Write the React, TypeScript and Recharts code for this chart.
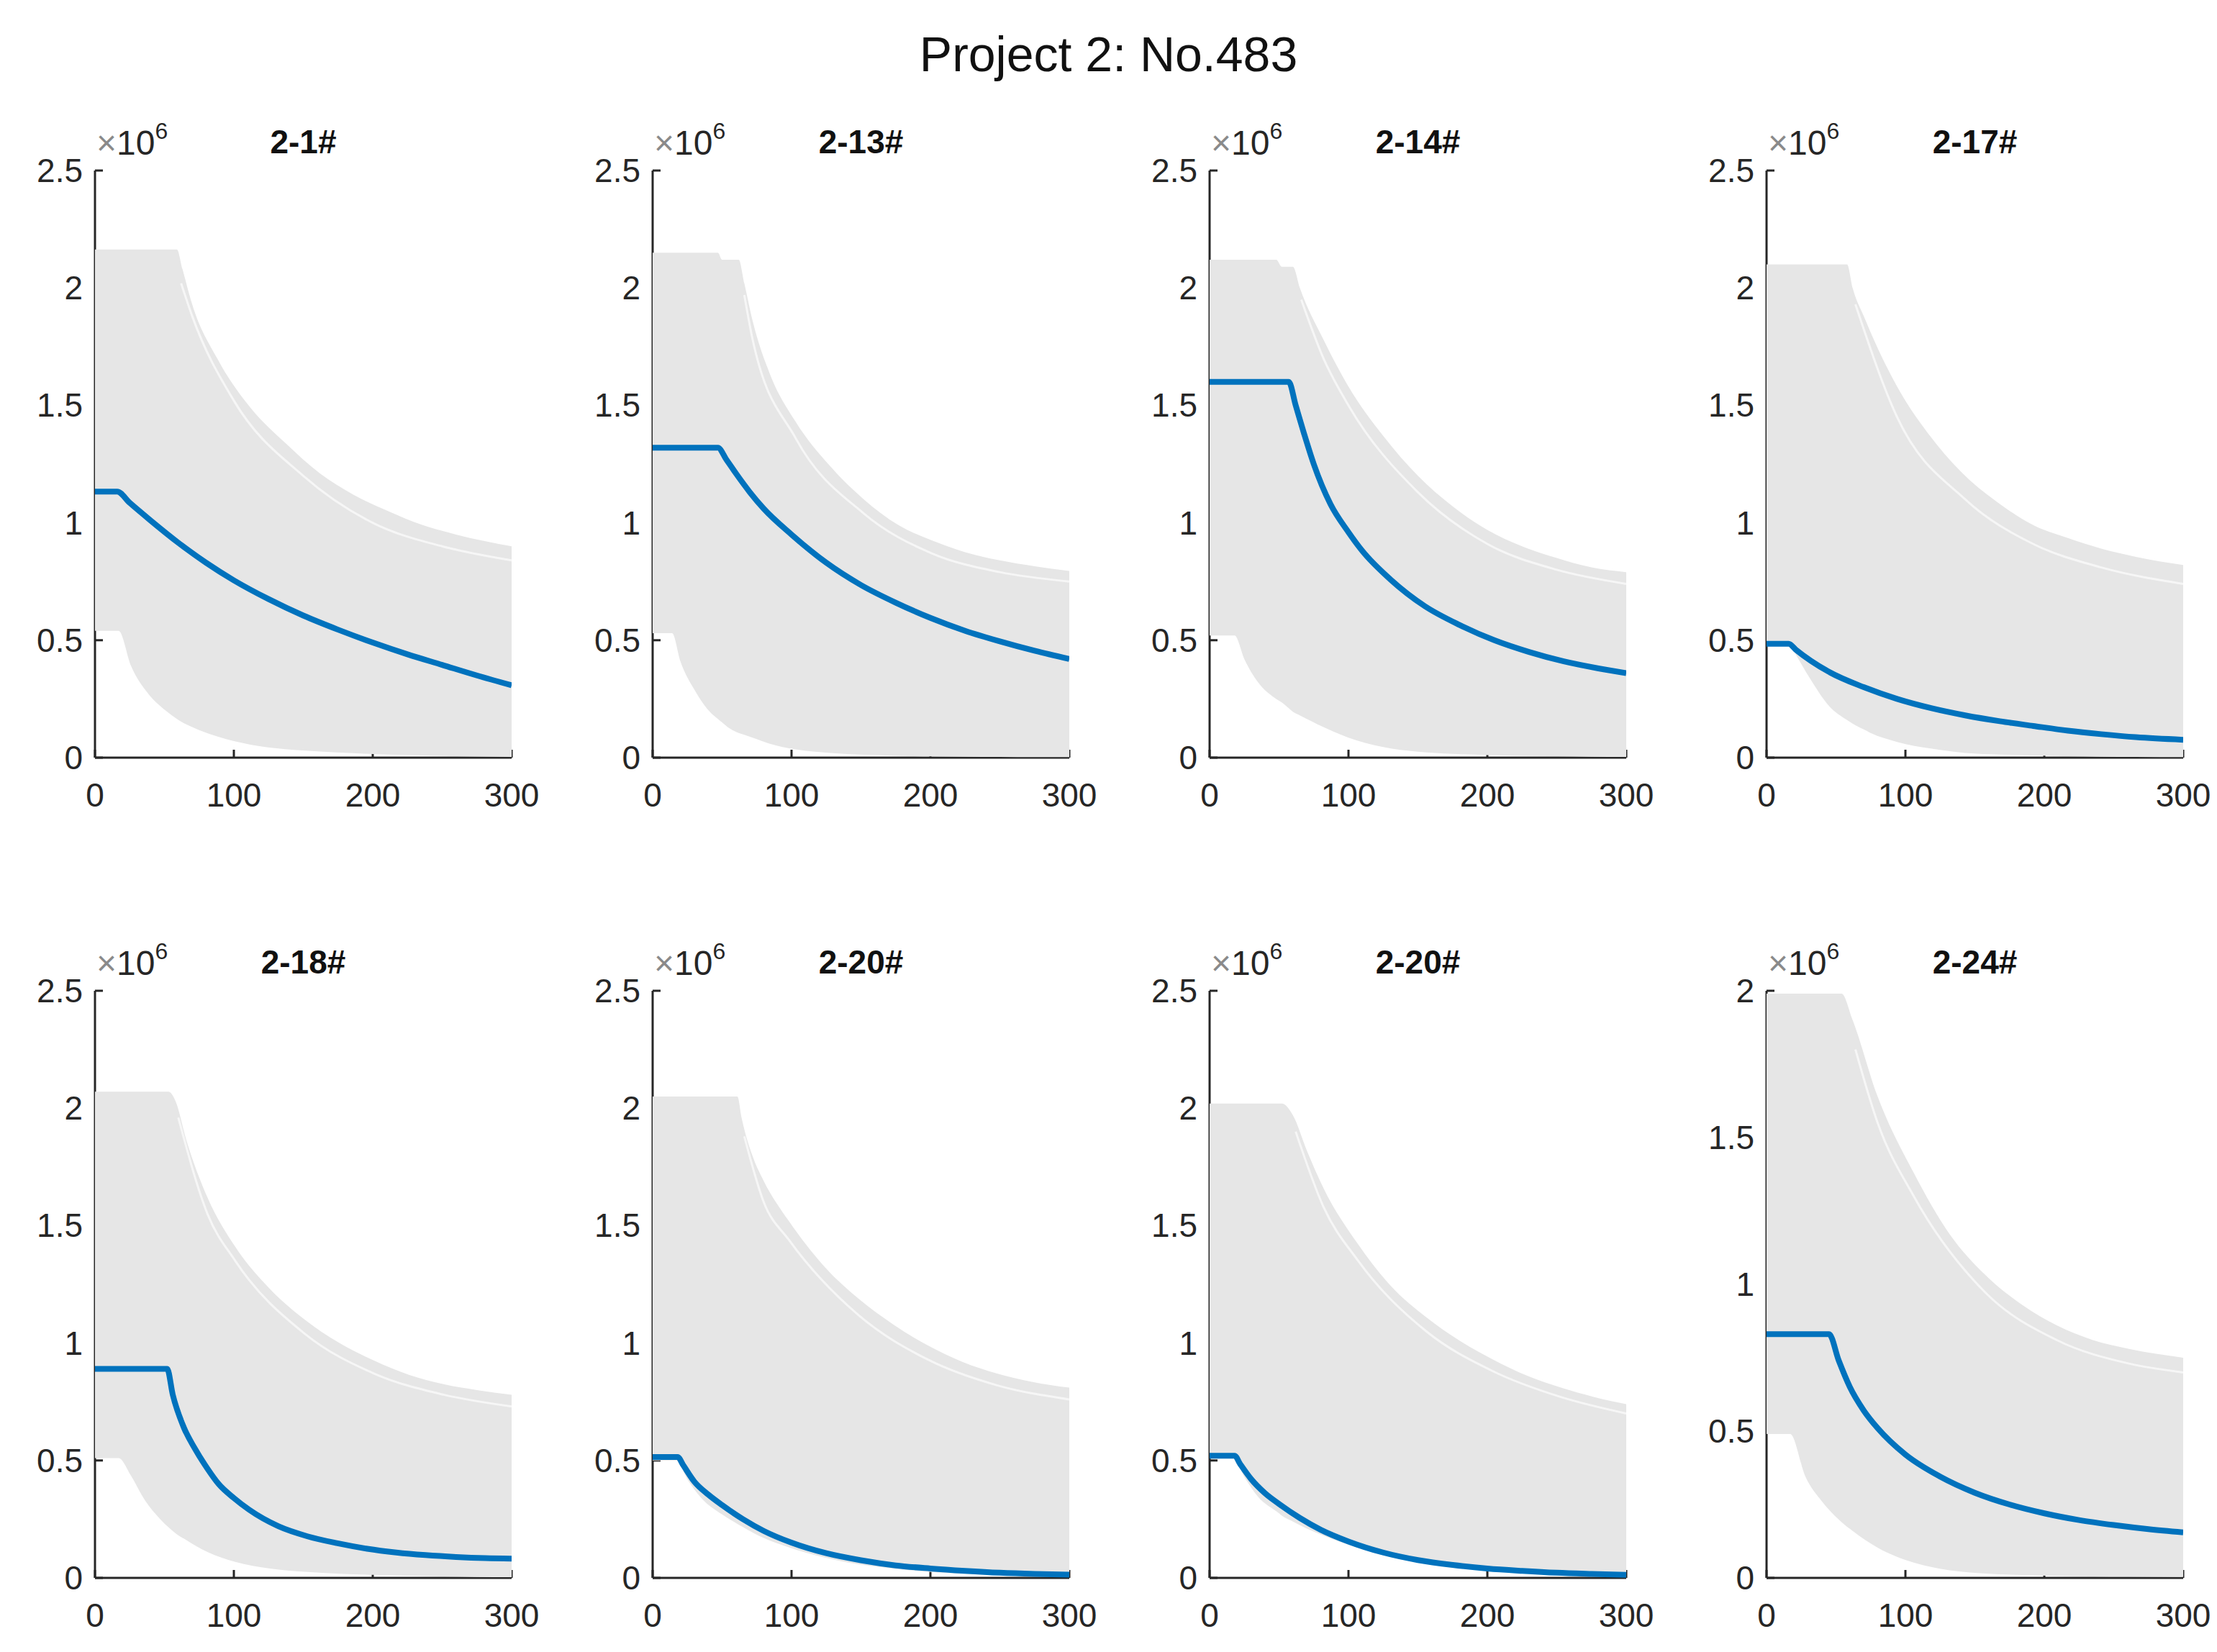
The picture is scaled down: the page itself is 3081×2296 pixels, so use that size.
import React from 'react'
import { ComposedChart, Area, Line, XAxis, YAxis } from 'recharts'

// values, y in units of 10^6

// 2-1#
const p1BandX = [0, 17, 26, 38, 51, 59, 63, 70, 88, 112, 137, 162, 186, 211, 236, 260, 300]
const p1Low = [0.54, 0.54, 0.39, 0.275, 0.2, 0.165, 0.15, 0.13, 0.09, 0.055, 0.036, 0.026, 0.019, 0.013, 0.009, 0.006, 0.003]
const p1High = [2.164, 2.164, 2.164, 2.164, 2.164, 2.164, 2.08, 1.93, 1.7, 1.49, 1.34, 1.21, 1.12, 1.05, 0.99, 0.95, 0.9]
const p1GapX = [62, 70, 100, 150, 200, 250, 300]
const p1GapY = [2.02, 1.88, 1.52, 1.2, 1.0, 0.9, 0.84]
const p1BlueX = [0, 16, 25, 40, 60, 80, 100, 125, 150, 175, 200, 225, 250, 275, 300]
const p1BlueY = [1.133, 1.133, 1.085, 1.01, 0.915, 0.83, 0.755, 0.675, 0.605, 0.545, 0.49, 0.44, 0.395, 0.35, 0.308]

// 2-13#
const p2BandX = [0, 14, 20, 30, 42, 47, 50, 54, 62, 66, 72, 84, 103, 128, 152, 177, 201, 225, 250, 275, 300]
const p2Low = [0.53, 0.53, 0.41, 0.29, 0.19, 0.165, 0.15, 0.13, 0.105, 0.097, 0.085, 0.06, 0.035, 0.02, 0.012, 0.008, 0.005, 0.004, 0.003, 0.002, 0.002]
const p2High = [2.15, 2.15, 2.15, 2.15, 2.15, 2.15, 2.12, 2.12, 2.12, 2.02, 1.86, 1.64, 1.43, 1.24, 1.1, 0.99, 0.925, 0.875, 0.84, 0.815, 0.795]
const p2GapX = [66, 72, 103, 152, 201, 250, 300]
const p2GapY = [1.97, 1.78, 1.36, 1.04, 0.87, 0.79, 0.75]
const p2BlueX = [0, 47, 53, 60, 70, 80, 100, 125, 150, 175, 200, 225, 250, 275, 300]
const p2BlueY = [1.32, 1.32, 1.27, 1.21, 1.13, 1.06, 0.95, 0.83, 0.735, 0.66, 0.595, 0.54, 0.495, 0.455, 0.42]

// 2-14#
const p3BandX = [0, 18, 25, 35, 48, 52, 58, 60, 65, 82, 100, 125, 150, 175, 200, 225, 250, 275, 300]
const p3Low = [0.52, 0.52, 0.42, 0.32, 0.25, 0.235, 0.205, 0.195, 0.18, 0.13, 0.085, 0.045, 0.025, 0.016, 0.011, 0.008, 0.006, 0.004, 0.003]
const p3High = [2.12, 2.12, 2.12, 2.12, 2.12, 2.09, 2.09, 2.09, 2.0, 1.78, 1.58, 1.37, 1.2, 1.07, 0.97, 0.9, 0.85, 0.81, 0.79]
const p3GapX = [66, 82, 100, 150, 200, 250, 300]
const p3GapY = [1.95, 1.7, 1.5, 1.13, 0.91, 0.8, 0.74]
const p3BlueX = [0, 57, 62, 68, 75, 87, 100, 110, 130, 155, 180, 205, 230, 255, 280, 300]
const p3BlueY = [1.6, 1.6, 1.5, 1.38, 1.25, 1.08, 0.96, 0.88, 0.76, 0.645, 0.565, 0.5, 0.45, 0.41, 0.38, 0.36]

// 2-17#
const p4BandX = [0, 16, 21, 31, 45, 58, 62, 70, 75, 94, 119, 143, 168, 192, 217, 241, 266, 300]
const p4Low = [0.49, 0.49, 0.44, 0.34, 0.22, 0.16, 0.145, 0.12, 0.105, 0.067, 0.038, 0.02, 0.013, 0.009, 0.006, 0.004, 0.003, 0.002]
const p4High = [2.1, 2.1, 2.1, 2.1, 2.1, 2.1, 2.0, 1.88, 1.81, 1.58, 1.36, 1.2, 1.08, 0.99, 0.935, 0.89, 0.855, 0.82]
const p4GapX = [64, 94, 143, 192, 241, 300]
const p4GapY = [1.93, 1.45, 1.1, 0.91, 0.81, 0.74]
const p4BlueX = [0, 16, 21, 45, 70, 94, 119, 143, 168, 192, 217, 241, 266, 300]
const p4BlueY = [0.485, 0.485, 0.46, 0.365, 0.3, 0.25, 0.21, 0.18, 0.155, 0.135, 0.115, 0.1, 0.087, 0.076]

// 2-18#
const p5BandX = [0, 17, 26, 36, 47, 53, 58, 66, 81, 101, 126, 151, 176, 201, 226, 251, 275, 300]
const p5Low = [0.51, 0.51, 0.434, 0.33, 0.25, 0.215, 0.19, 0.16, 0.11, 0.068, 0.04, 0.026, 0.018, 0.013, 0.009, 0.006, 0.004, 0.003]
const p5High = [2.07, 2.07, 2.07, 2.07, 2.07, 2.07, 2.03, 1.86, 1.62, 1.41, 1.23, 1.1, 1.0, 0.925, 0.865, 0.825, 0.8, 0.78]
const p5GapX = [60, 81, 101, 151, 201, 251, 300]
const p5GapY = [1.96, 1.55, 1.35, 1.04, 0.87, 0.78, 0.73]
const p5BlueX = [0, 52, 56, 64, 72, 81, 89, 100, 111, 132, 153, 174, 196, 217, 238, 260, 281, 300]
const p5BlueY = [0.89, 0.89, 0.78, 0.64, 0.55, 0.465, 0.4, 0.34, 0.29, 0.22, 0.177, 0.148, 0.124, 0.108, 0.097, 0.089, 0.084, 0.082]

// 2-20# (first)
const p6BandX = [0, 17, 25, 35, 50, 61, 64, 73, 80, 98, 123, 148, 173, 198, 223, 248, 273, 300]
const p6Low = [0.5, 0.5, 0.42, 0.34, 0.27, 0.23, 0.22, 0.19, 0.17, 0.13, 0.088, 0.058, 0.04, 0.026, 0.018, 0.012, 0.008, 0.006]
const p6High = [2.05, 2.05, 2.05, 2.05, 2.05, 2.05, 1.96, 1.78, 1.69, 1.52, 1.33, 1.19, 1.08, 0.99, 0.92, 0.87, 0.835, 0.81]
const p6GapX = [66, 80, 98, 148, 198, 248, 300]
const p6GapY = [1.88, 1.6, 1.44, 1.12, 0.93, 0.82, 0.76]
const p6BlueX = [0, 18, 22, 30, 40, 50, 65, 80, 100, 125, 150, 175, 200, 225, 250, 275, 300]
const p6BlueY = [0.515, 0.515, 0.48, 0.41, 0.355, 0.31, 0.25, 0.2, 0.15, 0.105, 0.075, 0.053, 0.04, 0.03, 0.022, 0.017, 0.014]

// 2-20# (second)
const p7BandX = [0, 17, 25, 35, 50, 52, 60, 70, 82, 107, 131, 156, 180, 204, 229, 253, 277, 300]
const p7Low = [0.51, 0.51, 0.43, 0.345, 0.275, 0.265, 0.24, 0.21, 0.18, 0.128, 0.088, 0.06, 0.042, 0.03, 0.02, 0.014, 0.009, 0.006]
const p7High = [2.02, 2.02, 2.02, 2.02, 2.02, 2.02, 1.97, 1.82, 1.66, 1.42, 1.24, 1.11, 1.01, 0.93, 0.86, 0.81, 0.77, 0.74]
const p7GapX = [62, 82, 107, 156, 204, 253, 300]
const p7GapY = [1.9, 1.58, 1.35, 1.05, 0.88, 0.77, 0.7]
const p7BlueX = [0, 18, 22, 30, 40, 50, 65, 80, 100, 125, 150, 175, 200, 225, 250, 275, 300]
const p7BlueY = [0.52, 0.52, 0.485, 0.42, 0.36, 0.315, 0.255, 0.205, 0.155, 0.108, 0.076, 0.055, 0.04, 0.03, 0.022, 0.017, 0.013]

// 2-24#
const p8BandX = [0, 17, 28, 40, 54, 62, 80, 106, 132, 158, 184, 209, 235, 261, 300]
const p8Low = [0.49, 0.49, 0.345, 0.26, 0.19, 0.16, 0.103, 0.052, 0.026, 0.015, 0.01, 0.007, 0.005, 0.004, 0.003]
const p8High = [1.99, 1.99, 1.99, 1.99, 1.99, 1.9, 1.64, 1.38, 1.17, 1.03, 0.93, 0.86, 0.81, 0.78, 0.75]
const p8GapX = [64, 80, 106, 158, 209, 261, 300]
const p8GapY = [1.8, 1.55, 1.3, 0.97, 0.81, 0.73, 0.7]
const p8BlueX = [0, 45, 52, 60, 70, 80, 100, 125, 150, 175, 200, 225, 250, 275, 300]
const p8BlueY = [0.83, 0.83, 0.74, 0.65, 0.57, 0.51, 0.42, 0.345, 0.29, 0.25, 0.22, 0.197, 0.18, 0.166, 0.155]

const titles = ['2-1#', '2-13#', '2-14#', '2-17#', '2-18#', '2-20#', '2-20#', '2-24#']
const xTicks = [0, 100, 200, 300]
const yTicks = [0, 0.5, 1, 1.5, 2, 2.5]
const yTicksLast = [0, 0.5, 1, 1.5, 2]

const FONT = "'Liberation Sans', Arial, Helvetica, sans-serif"
const INK = '#262626'
const GRAY = '#e6e6e6'
const BLUE = '#0072bd'

const PLOT_W = 579
const PLOT_H = 816
const ML = 130
const MT = 40
const MR = 70
const MB = 90
const COL_X = [132, 907, 1681, 2455]
const ROW_Y = [237, 1377]

const band = (xs: number[], lo: number[], hi: number[]) =>
  xs.map((x, i) => ({ x, band: [lo[i], hi[i]] }))
const line = (xs: number[], ys: number[]) => xs.map((x, i) => ({ x, y: ys[i] }))

const panels = [
  { band: band(p1BandX, p1Low, p1High), gap: line(p1GapX, p1GapY), blue: line(p1BlueX, p1BlueY), yMax: 2.5 },
  { band: band(p2BandX, p2Low, p2High), gap: line(p2GapX, p2GapY), blue: line(p2BlueX, p2BlueY), yMax: 2.5 },
  { band: band(p3BandX, p3Low, p3High), gap: line(p3GapX, p3GapY), blue: line(p3BlueX, p3BlueY), yMax: 2.5 },
  { band: band(p4BandX, p4Low, p4High), gap: line(p4GapX, p4GapY), blue: line(p4BlueX, p4BlueY), yMax: 2.5 },
  { band: band(p5BandX, p5Low, p5High), gap: line(p5GapX, p5GapY), blue: line(p5BlueX, p5BlueY), yMax: 2.5 },
  { band: band(p6BandX, p6Low, p6High), gap: line(p6GapX, p6GapY), blue: line(p6BlueX, p6BlueY), yMax: 2.5 },
  { band: band(p7BandX, p7Low, p7High), gap: line(p7GapX, p7GapY), blue: line(p7BlueX, p7BlueY), yMax: 2.5 },
  { band: band(p8BandX, p8Low, p8High), gap: line(p8GapX, p8GapY), blue: line(p8BlueX, p8BlueY), yMax: 2 },
]

function XTick(props: any) {
  const { x, y, payload } = props
  return (
    <g>
      <line x1={x} x2={x} y1={y} y2={y - 11} stroke={INK} strokeWidth={3} />
      <text x={x} y={y + 52} textAnchor="middle" dominantBaseline="central" fill={INK} fontSize={46} fontFamily={FONT}>
        {payload.value}
      </text>
    </g>
  )
}

function YTick(props: any) {
  const { x, y, payload } = props
  return (
    <g>
      <line x1={x} x2={x + 11} y1={y} y2={y} stroke={INK} strokeWidth={3} />
      <text x={x - 17} y={y} textAnchor="end" dominantBaseline="central" fill={INK} fontSize={46} fontFamily={FONT}>
        {payload.value}
      </text>
    </g>
  )
}

const chartW = ML + PLOT_W + MR
const chartH = MT + PLOT_H + MB
const chartMargin = { top: MT, right: MR, left: 0, bottom: 0 }

function Panel({ index }: { index: number }) {
  const p = panels[index]
  const axisX = COL_X[index % 4]
  const plotTop = ROW_Y[Math.floor(index / 4)]
  const ticks = p.yMax === 2 ? yTicksLast : yTicks
  const box = { position: 'absolute' as const, left: axisX - ML, top: plotTop - MT }
  return (
    <>
      {/* axes underneath */}
      <div style={box}>
        <ComposedChart width={chartW} height={chartH} margin={chartMargin}>
          <XAxis
            type="number"
            dataKey="x"
            domain={[0, 300]}
            ticks={xTicks}
            height={MB}
            tickSize={0}
            tickMargin={0}
            tickLine={false}
            axisLine={{ stroke: INK, strokeWidth: 3 }}
            tick={<XTick />}
            allowDataOverflow
          />
          <YAxis
            type="number"
            domain={[0, p.yMax]}
            ticks={ticks}
            width={ML}
            tickSize={0}
            tickMargin={0}
            tickLine={false}
            axisLine={{ stroke: INK, strokeWidth: 3 }}
            tick={<YTick />}
            allowDataOverflow
          />
          <Line data={p.blue} dataKey="y" stroke="none" dot={false} activeDot={false} isAnimationActive={false} />
        </ComposedChart>
      </div>
      {/* simulation runs drawn over the axes, as in the MATLAB figure */}
      <div style={box}>
        <ComposedChart width={chartW} height={chartH} margin={chartMargin}>
          <XAxis
            type="number"
            dataKey="x"
            domain={[0, 300]}
            ticks={xTicks}
            height={MB}
            tick={false}
            tickLine={false}
            axisLine={false}
            allowDataOverflow
          />
          <YAxis
            type="number"
            domain={[0, p.yMax]}
            ticks={ticks}
            width={ML}
            tick={false}
            tickLine={false}
            axisLine={false}
            allowDataOverflow
          />
          <Area
            data={p.band}
            dataKey="band"
            type="monotone"
            stroke="none"
            fill={GRAY}
            fillOpacity={1}
            isAnimationActive={false}
          />
          {/* a visible gap between the topmost runs */}
          <Line
            data={p.gap}
            dataKey="y"
            type="monotone"
            stroke="#fafafa"
            strokeOpacity={0.8}
            strokeWidth={3}
            dot={false}
            activeDot={false}
            isAnimationActive={false}
          />
          <Line
            data={p.blue}
            dataKey="y"
            type="monotone"
            stroke={BLUE}
            strokeWidth={8}
            dot={false}
            activeDot={false}
            isAnimationActive={false}
          />
        </ComposedChart>
      </div>
      <div
        style={{
          position: 'absolute',
          left: axisX + PLOT_W / 2,
          top: plotTop - 40,
          transform: 'translate(-50%, -50%)',
          fontFamily: FONT,
          fontWeight: 'bold',
          fontSize: 46,
          lineHeight: 1,
          color: '#111',
          whiteSpace: 'nowrap',
        }}
      >
        {titles[index]}
      </div>
      <div
        style={{
          position: 'absolute',
          left: axisX + 2,
          top: plotTop - 62,
          fontFamily: FONT,
          fontSize: 48,
          lineHeight: '48px',
          color: INK,
          whiteSpace: 'nowrap',
        }}
      >
        <span style={{ color: '#8a8a8a' }}>×</span>10
        <span style={{ position: 'relative', top: -22, fontSize: 32 }}>6</span>
      </div>
    </>
  )
}

export default function App() {
  return (
    <div
      style={{
        position: 'absolute',
        left: 0,
        top: 0,
        width: 3081,
        height: 2296,
        background: '#fff',
        overflow: 'hidden',
      }}
    >
      <div
        style={{
          position: 'absolute',
          left: 0,
          width: 3081,
          top: 41,
          textAlign: 'center',
          fontFamily: FONT,
          fontSize: 68,
          lineHeight: '68px',
          color: '#111',
        }}
      >
        Project 2: No.483
      </div>
      {titles.map((_, i) => (
        <Panel key={i} index={i} />
      ))}
    </div>
  )
}
